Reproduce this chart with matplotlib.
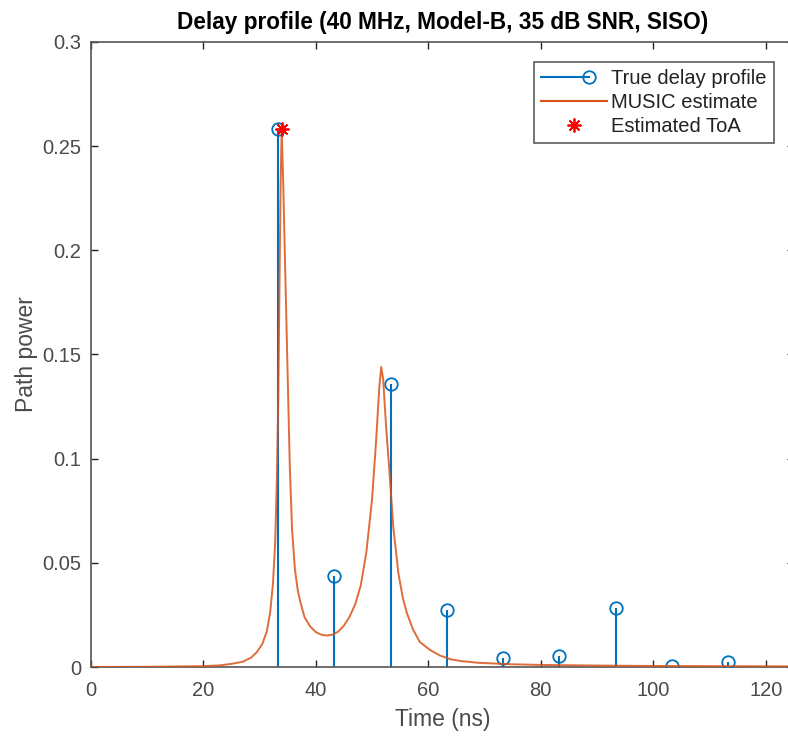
import matplotlib
matplotlib.use("Agg")
import matplotlib.pyplot as plt
from matplotlib.lines import Line2D
from matplotlib.legend_handler import HandlerBase

plt.rcParams['font.family'] = ['Liberation Sans', 'DejaVu Sans']

# ---- data ----
true_delays = [33.3, 43.3, 53.3, 63.3, 73.3, 83.3, 93.3, 103.3, 113.3]
true_power = [0.258, 0.0437, 0.1357, 0.0276, 0.0045, 0.0053, 0.0285, 0.0005, 0.0025]

music_t = [0, 10, 20, 23, 25, 27, 28.5, 29.5, 30.5, 31.3, 31.9, 32.4, 32.8, 33.1,
           33.35, 33.55, 33.75, 33.95, 34.2, 34.5, 34.8, 35.1, 35.4, 35.8, 36.3,
           36.8, 37.2, 38.0, 39.0, 40.0, 41.0, 42.0, 43.0, 44.0, 45.0, 46.0, 47.0,
           48.0, 49.0, 50.0, 50.7, 51.3, 51.65, 52.0, 52.5, 53.1, 53.8, 54.7, 55.5,
           56.2, 57.3, 58.5, 60.3, 62.1, 64, 66, 69, 75, 80, 90, 100, 110, 125]
music_p = [0.0, 0.0001, 0.0004, 0.0008, 0.0015, 0.0025, 0.0045, 0.007, 0.011, 0.017,
           0.026, 0.040, 0.060, 0.090, 0.130, 0.180, 0.230, 0.258, 0.235, 0.200,
           0.165, 0.130, 0.096, 0.066, 0.047, 0.037, 0.032, 0.024, 0.0195, 0.0168,
           0.0155, 0.0151, 0.0155, 0.0170, 0.0198, 0.024, 0.030, 0.039, 0.055, 0.080,
           0.107, 0.134, 0.144, 0.138, 0.116, 0.094, 0.067, 0.045, 0.033, 0.026,
           0.018, 0.012, 0.0082, 0.0055, 0.0037, 0.0028, 0.002, 0.0013, 0.001,
           0.0007, 0.0005, 0.0004, 0.0003]

est_toa = [33.95]
est_power = [0.258]

xticks = [0, 20, 40, 60, 80, 100, 120]
yticks = [0, 0.05, 0.1, 0.15, 0.2, 0.25, 0.3]
ytick_labels = ['0', '0.05', '0.1', '0.15', '0.2', '0.25', '0.3']

BLUE = '#0072BD'
ORANGE = '#D95319'
AXC = '#262626'
TXC = '#4a4a4a'

fig = plt.figure(figsize=(7.88, 7.38), dpi=100)
ax = fig.add_axes([0.1151, 0.0962, 1.0074 - 0.1151, 0.9431 - 0.0962])

# stems
ax.vlines(true_delays, 0, true_power, colors=BLUE, lw=1.5, zorder=2)
ax.plot(true_delays, true_power, linestyle='none', marker='o', ms=9, mfc='none',
        mec=BLUE, mew=1.3, zorder=3)
ax.plot(music_t, music_p, color=ORANGE, lw=1.4, alpha=0.85, zorder=4,
        solid_joinstyle='round')
ax.plot(est_toa, est_power, linestyle='none', marker=(8, 2, 0), ms=10, color='red',
        mew=1.3, zorder=5)

ax.set_xlim(0, 125)
ax.set_ylim(0, 0.3)
ax.set_xticks(xticks)
ax.set_yticks(yticks)
ax.set_yticklabels(ytick_labels)
ax.tick_params(direction='in', length=5, width=1, colors=AXC, labelcolor=TXC,
               labelsize=14.5, top=True, right=True)
ax.tick_params(axis='x', pad=10)
ax.tick_params(axis='y', pad=7)
for s in ax.spines.values():
    s.set_color('#555555')
    s.set_linewidth(1.2)

ax.set_xlabel('Time (ns)', fontsize=16.5, color=TXC, labelpad=6)
ax.set_ylabel('Path power', fontsize=16.5, color=TXC, labelpad=3)
ax.set_title('Delay profile (40 MHz, Model-B, 35 dB SNR, SISO)', fontsize=16.3,
             fontweight='bold', color='black', pad=9)


class StemHandler(HandlerBase):
    def create_artists(self, legend, orig_handle, xdescent, ydescent, width, height,
                       fontsize, trans):
        y = height / 2 - ydescent
        x0 = -xdescent
        x1 = width - xdescent
        xm = x0 + 0.72 * (x1 - x0)
        line = Line2D([x0, xm], [y, y], color=BLUE, lw=1.5, transform=trans)
        mk = Line2D([xm], [y], marker='o', ms=9, mfc='none', mec=BLUE, mew=1.3,
                    linestyle='none', transform=trans)
        return [line, mk]


stem_proxy = Line2D([], [], color=BLUE)
music_proxy = Line2D([], [], color=ORANGE, lw=1.5)
star_proxy = Line2D([], [], linestyle='none', marker=(8, 2, 0), ms=10, color='red',
                    mew=1.3)
leg = ax.legend([stem_proxy, music_proxy, star_proxy],
                ['True delay profile', 'MUSIC estimate', 'Estimated ToA'],
                handler_map={stem_proxy: StemHandler()},
                loc='upper right', bbox_to_anchor=(774 / 788, 1 - 62 / 738),
                bbox_transform=fig.transFigure, fontsize=14.5, frameon=True,
                fancybox=False, edgecolor='#333333', handlelength=3.3,
                handletextpad=0.2, borderpad=0.35, labelspacing=0.25,
                borderaxespad=0)
leg.get_frame().set_linewidth(1.2)
for t in leg.get_texts():
    t.set_color('#222222')

fig.savefig('out.png', dpi=100)
